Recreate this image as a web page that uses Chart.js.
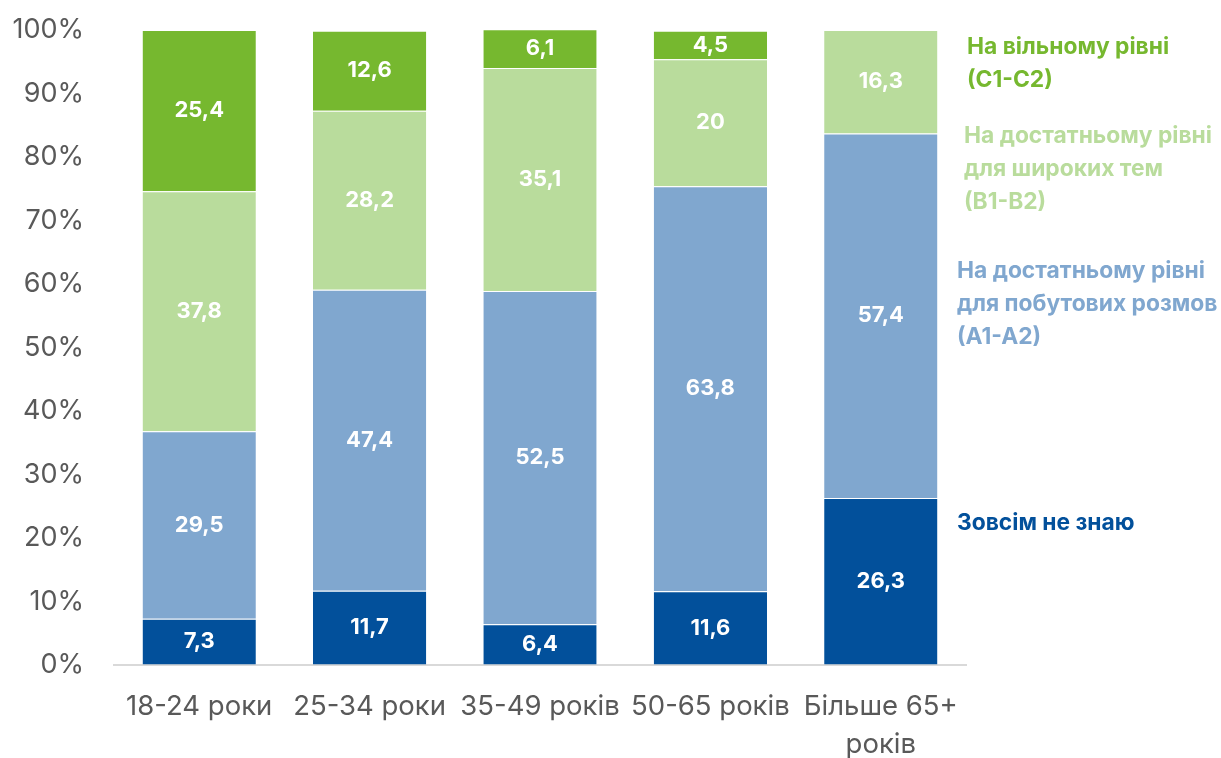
<!DOCTYPE html>
<html>
<head>
<meta charset="utf-8">
<script src="https://cdn.jsdelivr.net/npm/chart.js@4.4.1/dist/chart.umd.min.js"></script>
<style>
  html, body { margin: 0; padding: 0; background: #fff; }
  #wrap { width: 1221px; height: 758px; }
</style>
</head>
<body>
<div id="wrap"><canvas id="chart" width="1221" height="758"></canvas></div>
<script>
// Дані
const categories = ['18-24 роки', '25-34 роки', '35-49 років', '50-65 років', ['Більше 65+', 'років']];
const none = [7.3, 11.7, 6.4, 11.6, 26.3];
const a1a2 = [29.5, 47.4, 52.5, 63.8, 57.4];
const b1b2 = [37.8, 28.2, 35.1, 20, 16.3];
const c1c2 = [25.4, 12.6, 6.1, 4.5, 0];
const yTicks = [0, 10, 20, 30, 40, 50, 60, 70, 80, 90, 100];

const colors = {
    none: '#02509B',
    a1a2: '#80A7CF',
    b1b2: '#B9DC9C',
    c1c2: '#76B82F'
};

// Підписи легенди праворуч
const sideLegend = [
    { lines: ['На вільному рівні', '(C1-C2)'], color: colors.c1c2, x: 967, y: 47 },
    { lines: ['На достатньому рівні', 'для широких тем', '(B1-B2)'], color: colors.b1b2, x: 964, y: 136 },
    { lines: ['На достатньому рівні', 'для побутових розмов', '(A1-A2)'], color: colors.a1a2, x: 957, y: 271 },
    { lines: ['Зовсім не знаю'], color: colors.none, x: 957, y: 523 }
];

const valueLabels = {
    id: 'valueLabels',
    afterDatasetsDraw(chart) {
        const ctx = chart.ctx;
        ctx.save();
        ctx.font = 'bold 22px Inter, sans-serif';
        ctx.fillStyle = '#ffffff';
        ctx.textAlign = 'center';
        ctx.textBaseline = 'middle';
        chart.data.datasets.forEach((ds, i) => {
            const meta = chart.getDatasetMeta(i);
            meta.data.forEach((bar, j) => {
                const v = ds.data[j];
                if (!v) return;
                const p = bar.getProps(['x', 'y', 'base'], true);
                ctx.fillText(String(v).replace('.', ','), p.x, (p.y + p.base) / 2);
            });
        });
        ctx.restore();
    }
};

const sideLegendPlugin = {
    id: 'sideLegend',
    afterDraw(chart) {
        const ctx = chart.ctx;
        ctx.save();
        ctx.font = 'bold 22.8px Inter, sans-serif';
        ctx.textAlign = 'left';
        ctx.textBaseline = 'middle';
        sideLegend.forEach(item => {
            ctx.fillStyle = item.color;
            item.lines.forEach((line, k) => {
                ctx.fillText(line, item.x, item.y + k * 33.3);
            });
        });
        ctx.restore();
    }
};

const ctx = document.getElementById('chart').getContext('2d');
new Chart(ctx, {
    type: 'bar',
    data: {
        labels: categories,
        datasets: [
            { label: 'Зовсім не знаю', data: none, backgroundColor: colors.none },
            { label: 'A1-A2', data: a1a2, backgroundColor: colors.a1a2 },
            { label: 'B1-B2', data: b1b2, backgroundColor: colors.b1b2 },
            { label: 'C1-C2', data: c1c2, backgroundColor: colors.c1c2 }
        ].map(ds => Object.assign(ds, {
            borderColor: 'rgba(255,255,255,0.6)',
            borderWidth: { top: 1, bottom: 0, left: 0, right: 0 },
            borderSkipped: false,
            barPercentage: 0.665,
            categoryPercentage: 1
        }))
    },
    options: {
        responsive: false,
        animation: false,
        layout: { padding: { top: 30, right: 255, bottom: 0, left: 0 } },
        plugins: {
            legend: { display: false },
            tooltip: { enabled: false }
        },
        scales: {
            x: {
                stacked: true,
                grid: { display: false, drawTicks: false },
                border: { color: '#D9D9D9', width: 2 },
                ticks: {
                    color: '#595959',
                    font: { family: 'Inter, sans-serif', size: 27.5, lineHeight: 1.38 },
                    padding: 23,
                    maxRotation: 0,
                    autoSkip: false
                },
                afterFit(scale) { scale.height = 93; }
            },
            y: {
                stacked: true,
                min: 0,
                max: 100,
                afterBuildTicks(scale) { scale.ticks = yTicks.map(v => ({ value: v })); },
                // невидимі риски відсувають підписи від осі
                grid: { display: true, drawOnChartArea: false, drawTicks: true, tickLength: 28, color: 'rgba(0,0,0,0)' },
                border: { display: false },
                ticks: {
                    color: '#595959',
                    font: { family: 'Inter, sans-serif', size: 27 },
                    padding: 2,
                    callback: v => v + '%'
                },
                afterFit(scale) { scale.width = 114; }
            }
        }
    },
    plugins: [valueLabels, sideLegendPlugin]
});
</script>
</body>
</html>
